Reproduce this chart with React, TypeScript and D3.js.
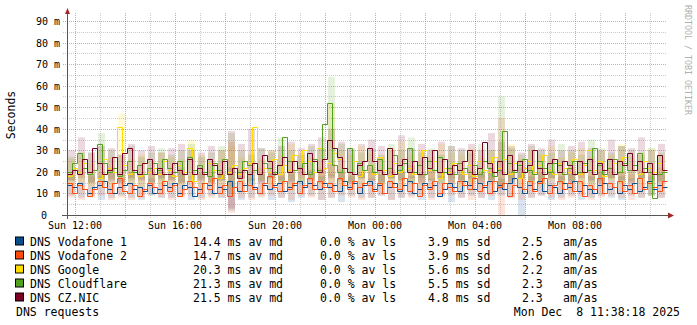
import React from "react";
import * as d3 from "d3";

// ---------- DATA ----------
const seriesNames = ["DNS Vodafone 1", "DNS Vodafone 2", "DNS Google", "DNS Cloudflare", "DNS CZ.NIC"];
const seriesColors = ["#0a4d8c", "#ff4c0c", "#ffdd00", "#52a01c", "#7a0026"];
const avMd = ["14.4", "14.7", "20.3", "21.3", "21.5"];
const avLs = ["0.0", "0.0", "0.0", "0.0", "0.0"];
const sd = ["3.9", "3.9", "5.6", "5.5", "4.8"];
const amas = ["2.5", "2.6", "2.2", "2.3", "2.3"];
const yTicks = [0, 10, 20, 30, 40, 50, 60, 70, 80, 90];
const title = "DNS requests";
const stamp = "Mon Dec  8 11:38:18 2025";

// medians (ms), 12-minute steps
const medVoda1 = [
  14,13,15,12,10,13,14,16,12,10,13,14,15,12,13,11,14,10,12,14,
  13,15,10,14,13,9,12,15,14,10,13,12,16,13,11,14,19,13,10,14,
  12,14,15,11,13,14,16,13,15,14,12,15,13,14,11,16,13,15,10,14,
  16,12,14,10,13,15,11,14,16,10,12,15,13,14,9,12,15,13,11,16,
  14,12,15,13,16,11,14,12,15,17,13,10,14,12,16,11,14,13,10,15,
  13,16,11,14,12,10,14,15,12,13,10,14,12,15,11,13,16,12,14,13,
];
const medVoda2 = [
  15,10,14,12,9,12,16,13,10,15,17,11,10,14,9,12,15,13,10,16,
  11,14,9,12,16,13,10,15,12,17,10,14,9,13,16,11,14,12,10,15,
  18,13,11,16,12,15,10,14,17,12,16,13,15,11,17,14,12,16,13,15,
  14,11,15,10,16,13,12,17,11,15,9,14,12,16,10,15,13,11,16,14,
  12,17,11,14,10,16,13,15,9,14,17,12,16,11,15,17,10,14,16,12,
  15,11,16,9,14,12,17,10,15,13,16,11,14,10,17,12,15,13,11,16,
];
const medGoogle = [
  18,22,20,24,19,21,17,26,22,20,41,23,19,21,18,24,20,22,19,25,
  21,18,23,20,31,16,22,19,24,21,17,25,20,23,19,22,24,41,19,22,
  20,26,19,23,21,28,22,30,25,20,31,22,24,29,26,22,20,25,18,21,
  23,19,27,21,18,24,20,26,22,19,23,30,21,25,17,22,20,24,21,19,
  23,18,25,21,20,27,22,26,19,24,17,22,25,20,23,28,21,19,24,22,
  20,26,19,23,30,21,25,18,22,24,20,27,21,23,19,25,22,20,24,21,
];
const medCloudflare = [
  20,24,29,22,19,21,33,24,20,22,18,21,25,20,23,19,22,24,21,26,
  22,20,25,19,27,21,23,20,18,24,21,26,19,22,20,25,23,21,19,24,
  22,20,23,36,25,21,22,24,19,26,21,42,52,23,20,22,31,19,24,21,
  23,20,26,19,22,28,21,24,31,20,23,19,25,21,27,20,22,19,24,22,
  20,23,19,25,22,18,21,39,24,20,23,26,21,19,25,22,20,24,23,19,
  22,25,20,24,21,31,23,19,22,26,20,24,21,23,29,22,20,8,19,20,
];
const medCznic = [
  19,21,19,26,20,31,24,19,21,27,19,29,31,21,19,24,26,19,22,19,
  19,24,21,19,26,19,22,19,26,23,19,25,19,22,17,21,19,24,19,28,
  25,19,23,27,20,25,22,19,29,25,20,26,35,31,27,22,20,19,23,25,
  31,25,21,19,31,19,23,26,20,25,19,27,22,30,20,26,19,23,21,25,
  30,19,22,34,24,20,25,19,28,21,25,20,23,30,22,19,24,26,20,25,
  23,19,25,20,26,19,24,21,26,19,25,23,29,21,25,20,24,19,28,21,
];

// smoke ranges (ms), 24-minute steps
const loVoda1 = [9,8,9,7,8,9,8,7,9,8,8,9,7,8,9,8,2,7,8,9,7,8,6,8,9,7,8,6,9,8,8,9,7,8,9,7,8,9,6,8,9,8,7,9,8,0,8,9,7,8,9,7,8,9,8,7,9,8,9,8];
const hiVoda1 = [18,17,19,18,20,17,19,18,17,19,18,20,17,19,18,19,22,18,17,19,20,18,19,17,21,18,19,20,18,19,17,19,18,20,18,19,17,18,20,19,18,19,20,17,19,22,18,19,20,18,19,17,18,20,19,18,17,19,18,19];
const loVoda2 = [8,7,8,9,7,8,7,8,9,8,7,8,9,7,8,8,1,8,7,8,9,8,7,9,8,7,8,9,8,7,8,9,7,8,8,9,7,8,9,8,7,8,9,0,8,7,8,9,8,7,8,9,7,8,9,8,7,8,9,8];
const hiVoda2 = [19,21,18,20,22,19,20,18,21,20,19,22,18,20,21,19,34,21,19,22,20,19,21,23,20,22,24,21,19,20,22,19,21,20,23,19,21,20,22,19,21,20,22,45,21,19,22,20,21,19,22,20,19,21,22,20,19,21,20,22];
const loGoogle = [14,15,13,15,14,16,14,13,15,14,15,14,16,13,15,14,12,15,14,16,14,15,13,15,16,14,15,13,15,14,16,14,15,13,15,14,16,15,14,13,15,14,16,13,15,14,15,13,16,14,15,14,13,15,16,14,15,14,13,15];
const hiGoogle = [26,28,24,30,27,47,26,28,25,29,27,26,35,28,25,30,32,27,29,26,30,28,33,29,27,31,52,30,28,32,29,27,31,34,28,30,27,33,29,28,31,27,30,29,33,26,30,28,32,27,29,31,27,30,28,33,27,29,31,28];
const loCloudflare = [16,17,15,16,17,15,16,17,15,16,17,15,16,17,15,16,10,17,15,16,17,15,16,15,17,16,18,16,15,17,16,15,17,16,15,17,16,15,17,16,15,17,16,14,16,17,15,16,17,15,16,17,15,16,17,15,16,17,9,16];
const hiCloudflare = [27,29,29,38,30,28,32,27,29,31,28,30,33,27,29,32,38,30,28,31,29,36,30,28,32,31,64,33,30,29,31,28,33,30,36,29,31,28,32,30,29,33,30,55,31,28,32,30,29,33,30,28,35,31,29,32,30,28,31,29];
const loCznic = [16,17,15,17,16,15,17,16,15,17,16,15,17,16,15,16,3,17,16,15,17,16,15,17,16,15,17,16,15,17,16,15,17,16,17,15,16,17,15,16,17,15,16,12,15,17,16,15,17,16,15,17,16,15,17,16,15,17,16,15];
const hiCznic = [30,36,29,32,31,28,33,30,32,29,31,33,30,29,32,30,39,33,40,31,30,32,34,31,33,36,40,34,31,33,35,32,30,37,31,33,30,34,32,31,33,30,38,34,32,29,33,31,35,30,32,34,31,30,35,32,31,36,30,33];

const medians = [medVoda1, medVoda2, medGoogle, medCloudflare, medCznic];
const smokeLo = [loVoda1, loVoda2, loGoogle, loCloudflare, loCznic];
const smokeHi = [hiVoda1, hiVoda2, hiGoogle, hiCloudflare, hiCznic];

// ---------- LAYOUT ----------
const W = 697, H = 325;
const X0 = 67, X1 = 667, Y0 = 215, Y1 = 15;
const FONT = "'DejaVu Sans Mono', monospace";
const startTime = new Date(2025, 11, 7, 11, 40, 48);
const endTime = new Date(startTime.getTime() + 24 * 3600 * 1000);

export default function App() {
  const N = medVoda1.length;
  const xt = d3.scaleTime().domain([startTime, endTime]).range([X0, X1]);
  const xi = d3.scaleLinear().domain([0, N]).range([X0, X1]);
  const xs = d3.scaleLinear().domain([0, smokeLo[0].length]).range([X0, X1]);
  const y = d3.scaleLinear().domain([0, 92.8]).range([Y0, Y1]);

  const hours = d3.timeHour.every(1)!.range(startTime, endTime);
  const labelHours = hours.filter((h) => h.getHours() % 4 === 0);
  const fmtLabel = d3.timeFormat("%a %H:%M");

  const line = d3
    .line<[number, number]>()
    .x((d) => Math.round(xi(d[0])) + 0.5)
    .y((d) => Math.round(y(d[1])) + 0.5)
    .curve(d3.curveStepAfter);

  const hLines = d3.range(5, 91, 5);

  return (
    <svg width={W} height={H} style={{ display: "block", position: "absolute", left: 0, top: 0 }} fontFamily={FONT}>
      <rect x={0} y={0} width={W} height={H} fill="#ffffff" />
      {/* smoke */}
      <g>
        {smokeLo.map((lo, s) =>
          lo.map((l, j) => {
            const h = smokeHi[s][j];
            return (
              <rect
                key={`sm${s}-${j}`}
                x={xs(j) + 1}
                width={xs(j + 1) - xs(j) - 3}
                y={y(h)}
                height={y(l) - y(h)}
                fill={seriesColors[s]}
                opacity={0.15}
              />
            );
          })
        )}
      </g>
      {/* grid */}
      <g>
        {hLines.map((v) => (
          <line
            key={`h${v}`}
            x1={63}
            x2={X1}
            y1={Math.round(y(v)) + 0.5}
            y2={Math.round(y(v)) + 0.5}
            stroke={v % 10 === 0 ? "rgba(220,80,80,0.55)" : "rgba(160,160,160,0.55)"}
            strokeDasharray="1,1"
          />
        ))}
        {hours.map((h, k) => {
          const major = h.getHours() % 2 === 0;
          const xx = Math.round(xt(h)) + 0.5;
          return (
            <line
              key={`v${k}`}
              x1={xx}
              x2={xx}
              y1={Y0 + 3}
              y2={Y1 - 2}
              stroke={major ? "rgba(220,80,80,0.55)" : "rgba(160,160,160,0.55)"}
              strokeDasharray="1,1"
            />
          );
        })}
      </g>
      {/* lines */}
      <g fill="none" strokeWidth={1}>
        {medians.map((m, s) => {
          const pts: [number, number][] = m.map((v, i) => [i, v] as [number, number]);
          pts.push([N, m[N - 1]]);
          return <path key={`l${s}`} d={line(pts) || ""} stroke={seriesColors[s]} />;
        })}
      </g>
      {/* axes */}
      <line x1={62} x2={671} y1={Y0 + 0.5} y2={Y0 + 0.5} stroke="#555" />
      <line x1={X0 + 0.5} x2={X0 + 0.5} y1={Y0 + 4} y2={11} stroke="#555" />
      <path d={`M${X0 - 2},${14} L${X0 + 0.5},${8} L${X0 + 3},${14} Z`} fill="#a02828" />
      <path d={`M${668},${Y0 - 2.5} L${674},${Y0 + 0.5} L${668},${Y0 + 3.5} Z`} fill="#a02828" />
      {/* y labels */}
      <g fontSize={10} fill="#000">
        {yTicks.map((v) => (
          <text key={`yt${v}`} x={v === 0 ? 47 : 60} y={Math.round(y(v)) + 4} textAnchor="end">
            {v === 0 ? "0" : `${v} m`}
          </text>
        ))}
      </g>
      <text
        x={0}
        y={0}
        fontSize={11.5}
        textAnchor="middle"
        transform={`translate(15,115) rotate(-90)`}
      >
        Seconds
      </text>
      {/* x labels */}
      <g fontSize={10} fill="#000">
        {labelHours.map((h, k) => (
          <text key={`xt${k}`} x={xt(h)} y={229} textAnchor="middle">
            {fmtLabel(h)}
          </text>
        ))}
      </g>
      {/* watermark */}
      <text
        x={0}
        y={0}
        fontSize={8.3}
        fill="#b0b0b0"
        transform={`translate(685,5) rotate(90)`}
      >
        RRDTOOL / TOBI OETIKER
      </text>
      {/* legend */}
      <g fontSize={11.5} fill="#000">
        {seriesNames.map((n, s) => {
          const by = 245.5 + s * 14;
          return (
            <g key={`lg${s}`}>
              <rect x={15.5} y={by - 8.5} width={8} height={8} fill={seriesColors[s]} stroke="#000" strokeWidth={1} />
              <text x={30} y={by}>{n}</text>
              <text x={193} y={by} style={{ whiteSpace: "pre" }}>{`${avMd[s]} ms av md`}</text>
              <text x={320} y={by} style={{ whiteSpace: "pre" }}>{`${avLs[s]} % av ls`}</text>
              <text x={428} y={by} style={{ whiteSpace: "pre" }}>{`${sd[s]} ms sd`}</text>
              <text x={522} y={by}>{amas[s]}</text>
              <text x={563} y={by}>am/as</text>
            </g>
          );
        })}
        <text x={16} y={315.5}>{title}</text>
        <text x={680} y={315.5} textAnchor="end" style={{ whiteSpace: "pre" }}>{stamp}</text>
      </g>
    </svg>
  );
}
